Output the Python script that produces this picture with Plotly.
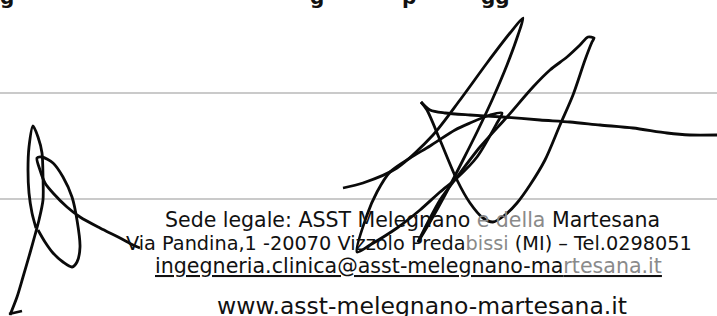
import plotly.graph_objects as go

# ---- data -------------------------------------------------------------
W, H = 717, 316
rule_y = [93, 199]

text_lines = [
    "Sede legale: ASST Melegnano <span style='color:#8a8a8a'>e della</span> Martesana",
    "Via Pandina,1 -20070 Vizzolo Preda<span style='color:#8a8a8a'>bissi</span> (MI) – Tel.0298051",
    "ingegneria.clinica@asst-melegnano-ma<span style='color:#8a8a8a'>rtesana.it</span>",
    "www.asst-melegnano-martesana.it",
]
text_x = [412, 408.5, 408, 421.5]
text_y = [219.5, 243.5, 265.5, 305.5]
text_size = [20.5, 19.3, 20.6, 23.5]
text_underline = [False, False, True, False]

top_frag_text = ["g", "g", "p", "gg"]
top_frag_x = [7, 317, 409, 495]

# signature strokes (page coordinates, y downward)
left_sig_x = [
    [36, 32, 29, 28, 29, 33, 38, 42, 43, 43, 39, 35, 30, 23, 17, 10],
    [9, 22],
    [38, 45, 53, 63, 72, 77, 80, 77, 72, 63, 53, 42, 37, 40, 45, 53, 67, 80, 100, 120, 133, 140],
]
left_sig_y = [
    [228, 213, 193, 170, 147, 126, 137, 153, 177, 200, 220, 235, 253, 277, 297, 315],
    [314, 311],
    [230, 242, 253, 262, 267, 262, 247, 220, 197, 177, 163, 157, 158, 170, 183, 193, 207, 217, 228, 238, 245, 248],
]
right_sig_x = [
    [343, 363, 397, 433, 460, 487, 510, 523, 518, 507, 493, 478, 463, 445, 430, 418],
    [357, 367, 377, 390, 410, 430, 455, 470, 490, 502, 497, 477, 457, 440, 420, 397, 370, 357],
    [421, 430, 445, 470, 503, 540, 570, 600, 633, 667, 690, 717],
    [421, 427, 440, 457, 470, 483, 493, 505, 517, 530, 545, 560, 573, 585, 592, 594, 588, 580, 567, 550, 533, 507, 480, 457, 440, 428, 418],
]
right_sig_y = [
    [188, 183, 168, 135, 100, 63, 33, 18, 35, 65, 98, 130, 160, 195, 222, 242],
    [252, 215, 192, 172, 158, 146, 130, 123, 115, 113, 123, 157, 178, 192, 210, 228, 245, 252],
    [102, 110, 113, 115, 117, 120, 122, 125, 128, 133, 135, 135],
    [102, 110, 140, 180, 203, 218, 222, 215, 203, 185, 160, 125, 95, 60, 42, 38, 37, 45, 57, 70, 87, 117, 147, 177, 200, 222, 242],
]

# ---- figure -----------------------------------------------------------
fig = go.Figure()

for ry in rule_y:
    fig.add_trace(go.Scatter(x=[0, W], y=[ry, ry], mode="lines",
                             line=dict(color="#b8b8b8", width=1.6), hoverinfo="skip"))

for xs, ys in zip(left_sig_x + right_sig_x, left_sig_y + right_sig_y):
    fig.add_trace(go.Scatter(x=xs, y=ys, mode="lines",
                             line=dict(color="#0a0a0a", width=2.8, shape="spline", smoothing=0.8),
                             hoverinfo="skip"))

font_family = "DejaVu Sans, sans-serif"
for t, x, y, s, u in zip(text_lines, text_x, text_y, text_size, text_underline):
    fig.add_annotation(x=x, y=y, xref="x", yref="y", text=t, showarrow=False,
                       xanchor="center", yanchor="middle",
                       font=dict(family=font_family, size=s, color="#111111",
                                 lineposition="under" if u else "none"))

for t, x in zip(top_frag_text, top_frag_x):
    fig.add_annotation(x=x, y=11, xref="x", yref="y", text=t, showarrow=False,
                       xanchor="center", yanchor="bottom",
                       font=dict(family=font_family, size=20, color="#111111", weight="bold"))

fig.update_layout(
    width=W, height=H, margin=dict(l=0, r=0, t=0, b=0),
    paper_bgcolor="white", plot_bgcolor="white", showlegend=False, hovermode=False,
    xaxis=dict(range=[0, W], visible=False, fixedrange=True),
    yaxis=dict(range=[H, 0], visible=False, fixedrange=True),
)

fig.write_html("out.html", config={"displayModeBar": False},
               post_script="document.body.style.margin='0';document.body.style.overflow='hidden';")
